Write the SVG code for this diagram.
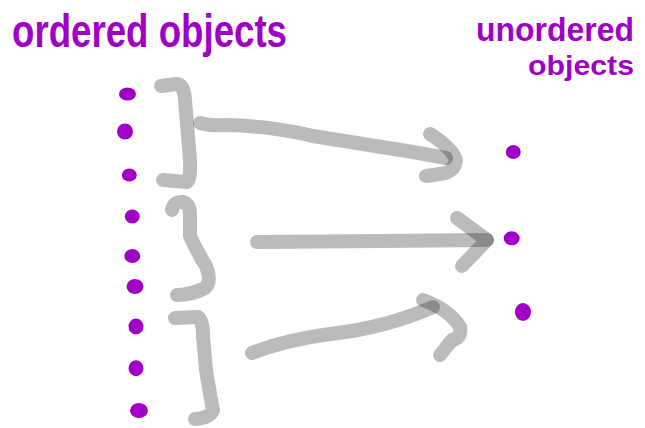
<svg xmlns="http://www.w3.org/2000/svg" width="645" height="428" viewBox="0 0 645 428">
<style>
.t{font-family:"Liberation Sans",Arial,sans-serif;fill:#a000c6;font-weight:bold}
.d{fill:#a000c6;stroke:#a000c6;stroke-width:5}
.g{fill:none;stroke:#1e1e1e;stroke-opacity:0.3;stroke-width:14;stroke-linecap:round;stroke-linejoin:round}
</style>
<rect width="645" height="428" fill="#fff"/>
<g id="title-ordered"><text class="t" x="12" y="47" font-size="46" textLength="275" lengthAdjust="spacingAndGlyphs">ordered objects</text></g>
<g id="title-unordered">
<text class="t" x="476" y="41" font-size="34" textLength="158" lengthAdjust="spacingAndGlyphs">unordered</text>
<text class="t" x="528" y="75" font-size="28" textLength="106" lengthAdjust="spacingAndGlyphs">objects</text>
</g>
<g id="ordered-dots">
<ellipse class="d" cx="127.5" cy="94" rx="6" ry="4" fill="none"/>
<ellipse class="d" cx="125" cy="131.5" rx="5.5" ry="5.5" fill="none"/>
<ellipse class="d" cx="129.3" cy="175" rx="5" ry="4"/>
<ellipse class="d" cx="132.3" cy="216.5" rx="5" ry="4.5"/>
<ellipse class="d" cx="132.3" cy="256" rx="5.5" ry="4.5" fill="none"/>
<ellipse class="d" cx="135" cy="286.5" rx="6" ry="5"/>
<ellipse class="d" cx="136" cy="326.5" rx="5" ry="5.5"/>
<ellipse class="d" cx="136" cy="368.3" rx="5" ry="5.5" fill="none"/>
<ellipse class="d" cx="139" cy="410.5" rx="6.5" ry="5"/>
</g>
<g id="unordered-dots">
<ellipse class="d" cx="513.3" cy="152" rx="5" ry="4.5"/>
<ellipse class="d" cx="511.7" cy="238.3" rx="5.5" ry="4.5" fill="none"/>
<ellipse class="d" cx="523" cy="312" rx="5.5" ry="6.5"/>
</g>
<g id="brackets">
<path class="g" d="M161,86 L177,84 Q184,85 185,100 L189,148 Q192,178 187,182 L163,180"/>
<path class="g" d="M172,210 Q174,201 183,202 Q190,204 190,215 L190,236 Q196,250 206,266 Q212,282 205,288 Q192,295 177,295"/>
<path class="g" d="M175,318 L198,317 Q203,320 203,336 L206,370 Q210,395 213,410 Q210,418 195,419"/>
</g>
<g id="connectors">
<path class="g" d="M200,123 Q210,126 226,125 Q270,126 313,136 L413,152 L446,158"/>
<path class="g" d="M430,134 Q452,148 456,160 Q455,172 440,174 L426,176"/>
<path class="g" d="M257,242 L380,241 L487,240"/>
<path class="g" d="M457,218 L487,240 L462,266"/>
<path class="g" d="M252,353 Q285,340 330,334 Q385,328 433,307"/>
<path class="g" d="M423,300 Q450,310 460,327 Q462,338 452,340 L440,355"/>
</g>
</svg>
